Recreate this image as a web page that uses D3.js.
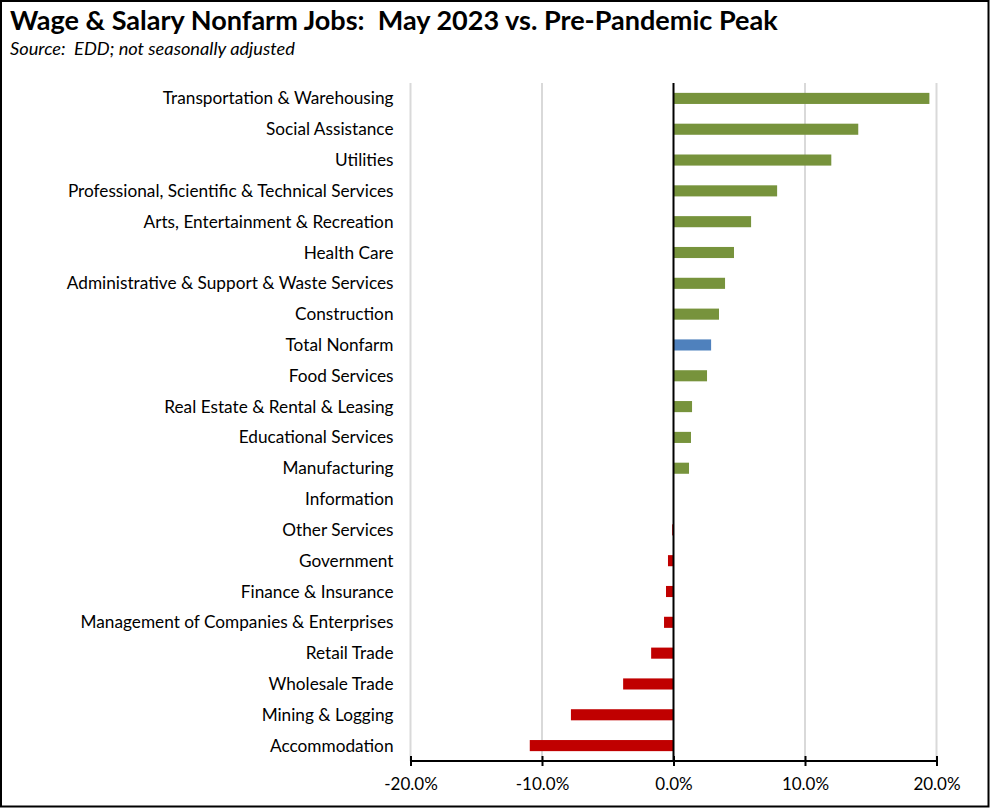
<!DOCTYPE html>
<html>
<head>
<meta charset="utf-8">
<script src="https://cdn.jsdelivr.net/npm/d3@7"></script>
<style>
html,body{margin:0;padding:0;background:#fff;}
svg{display:block;}
text{white-space:pre;}
</style>
</head>
<body>
<svg id="chart" width="990" height="808"></svg>
<script>
const categories = [
  "Transportation & Warehousing",
  "Social Assistance",
  "Utilities",
  "Professional, Scientific & Technical Services",
  "Arts, Entertainment & Recreation",
  "Health Care",
  "Administrative & Support & Waste Services",
  "Construction",
  "Total Nonfarm",
  "Food Services",
  "Real Estate & Rental & Leasing",
  "Educational Services",
  "Manufacturing",
  "Information",
  "Other Services",
  "Government",
  "Finance & Insurance",
  "Management of Companies & Enterprises",
  "Retail Trade",
  "Wholesale Trade",
  "Mining & Logging",
  "Accommodation"
];
const values = [
  0.1946, 0.1405, 0.1200, 0.0788, 0.0590, 0.0460, 0.0392, 0.0346, 0.0286,
  0.0255, 0.0141, 0.0133, 0.0118, 0.0000, -0.0010, -0.0042, -0.0057,
  -0.0072, -0.0170, -0.0383, -0.0780, -0.1093
];
const tickValues = [-0.2, -0.1, 0, 0.1, 0.2];
const titleText = "Wage & Salary Nonfarm Jobs:  May 2023 vs. Pre-Pandemic Peak";
const subtitleText = "Source:  EDD; not seasonally adjusted";
const totalLabel = "Total Nonfarm";

const data = categories.map((c, i) => ({cat: c, val: values[i]}));
const svg = d3.select("#chart");
const W = 990, H = 808;
const FONT = "Lato, 'Open Sans', sans-serif";

// border
svg.append("rect").attr("x", 1).attr("y", 1).attr("width", W - 2.5).attr("height", H - 2.5)
  .attr("fill", "#fff").attr("stroke", "#000").attr("stroke-width", 2);

const x = d3.scaleLinear().domain([-0.2, 0.2]).range([410.5, 936.5]);
const y = d3.scaleBand().domain(categories).range([83, 761])
  .paddingInner(0.64).paddingOuter(0.32);

// gridlines
svg.append("g").selectAll("line").data(tickValues.filter(t => t !== 0)).join("line")
  .attr("x1", d => x(d)).attr("x2", d => x(d))
  .attr("y1", 83).attr("y2", 761)
  .attr("stroke", "#d9d9d9").attr("stroke-width", 2);

// bars
svg.append("g").selectAll("rect").data(data).join("rect")
  .attr("x", d => Math.min(x(0), x(d.val)))
  .attr("width", d => Math.abs(x(d.val) - x(0)))
  .attr("y", d => y(d.cat))
  .attr("height", y.bandwidth())
  .attr("fill", d => d.cat === totalLabel ? "#4F81BD" : (d.val >= 0 ? "#77933C" : "#C00000"));

// zero line
svg.append("line").attr("x1", x(0)).attr("x2", x(0)).attr("y1", 83).attr("y2", 761)
  .attr("stroke", "#000").attr("stroke-width", 2);

// bottom axis
const axis = d3.axisBottom(x).tickValues(tickValues).tickSize(5)
  .tickFormat(d3.format(".1%"));
const ag = svg.append("g").attr("transform", "translate(0,761)").call(axis);
ag.select(".domain").attr("stroke", "#000").attr("stroke-width", 2.2)
  .attr("d", `M${x(-0.2)},0H${x(0.2)}`);
ag.selectAll(".tick line").attr("stroke", "#000").attr("stroke-width", 2)
  .attr("y1", -5).attr("y2", 5);
ag.selectAll(".tick text").attr("y", 0).attr("dy", 0)
  .attr("transform", "translate(0,29)")
  .attr("font-family", FONT).attr("font-size", 17).attr("fill", "#000")
  .text(d => d3.format(".1%")(d).replace("−", "-"));

// category labels
const lg = svg.append("g");
const labels = lg.selectAll("text").data(data).join("text")
  .attr("x", 393.5).attr("y", d => y(d.cat) + y.bandwidth() / 2)
  .attr("dy", "0.35em").attr("text-anchor", "end")
  .attr("font-family", FONT).attr("font-size", 16).attr("fill", "#000")
  .text(d => d.cat);
// fit font size to match longest label width in reference (~327px)
let maxW = 0;
labels.each(function() { maxW = Math.max(maxW, this.getComputedTextLength()); });
const lfs = 16 * 327 / maxW;
labels.attr("font-size", lfs);

// title
const t = svg.append("text").attr("x", 10).attr("y", 30)
  .attr("font-family", FONT).attr("font-weight", "bold").attr("font-size", 22)
  .attr("fill", "#000").text(titleText);
const tw = t.node().getComputedTextLength();
t.attr("font-size", 22 * 768 / tw);

const s = svg.append("text").attr("x", 10).attr("y", 55)
  .attr("font-family", FONT).attr("font-style", "italic").attr("font-size", 16)
  .attr("fill", "#000").text(subtitleText);
const sw = s.node().getComputedTextLength();
s.attr("font-size", 16 * 285 / sw);
</script>
</body>
</html>
